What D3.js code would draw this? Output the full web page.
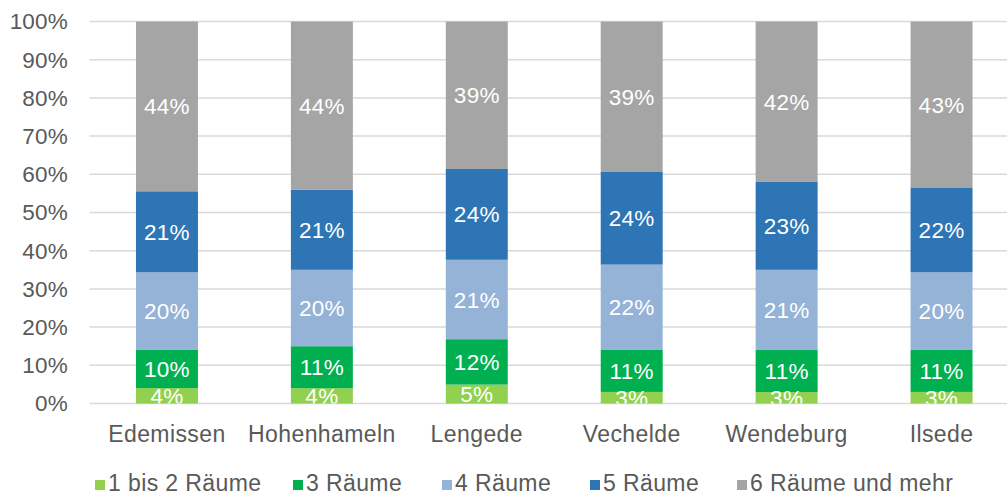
<!DOCTYPE html>
<html>
<head>
<meta charset="utf-8">
<script src="https://cdn.jsdelivr.net/npm/d3@7"></script>
<style>
  body { margin: 0; background: #fff; }
  svg { display: block; font-family: "Liberation Sans", Arial, sans-serif; }
</style>
</head>
<body>
<div id="chart"></div>
<script>
// Daten
const gemeinden = ['Edemissen', 'Hohenhameln', 'Lengede', 'Vechelde', 'Wendeburg', 'Ilsede'];
const serien = ['1 bis 2 Räume', '3 Räume', '4 Räume', '5 Räume', '6 Räume und mehr'];
const raum12 = [4, 4, 5, 3, 3, 3];
const raum3 = [10, 11, 12, 11, 11, 11];
const raum4 = [20, 20, 21, 22, 21, 20];
const raum5 = [21, 21, 24, 24, 23, 22];
const raum6 = [44, 44, 39, 39, 42, 43];
const yTicks = [0, 0.1, 0.2, 0.3, 0.4, 0.5, 0.6, 0.7, 0.8, 0.9, 1];
const farben = ['#92D050', '#00B050', '#95B3D7', '#2E75B6', '#A5A5A5'];

const width = 1007;
const height = 496;

const reihen = [raum12, raum3, raum4, raum5, raum6];
const tabelle = gemeinden.map((g, i) => {
  const row = { gemeinde: g };
  serien.forEach((s, j) => { row[s] = reihen[j][i]; });
  return row;
});

const stack = d3.stack()
  .keys(serien)
  .offset(d3.stackOffsetExpand);
const gestapelt = stack(tabelle);

const x = d3.scaleBand()
  .domain(gemeinden)
  .range([89.5, 1019])
  .paddingInner(0.6)
  .paddingOuter(0.3);

const y = d3.scaleLinear()
  .domain([0, 1])
  .range([403.5, 21.5]);

const color = d3.scaleOrdinal().domain(serien).range(farben);

const svg = d3.select('#chart')
  .append('svg')
  .attr('width', width)
  .attr('height', height);

svg.append('defs').append('clipPath')
  .attr('id', 'plot-clip')
  .append('rect')
  .attr('x', 0).attr('y', y(1))
  .attr('width', width).attr('height', y(0) - y(1));

// Gitterlinien
svg.append('g')
  .selectAll('line')
  .data(yTicks)
  .join('line')
  .attr('x1', 89.5)
  .attr('x2', width)
  .attr('y1', d => y(d))
  .attr('y2', d => y(d))
  .attr('stroke', '#D9D9D9')
  .attr('stroke-width', 1.5);

// Y-Achse Beschriftung
svg.append('g')
  .selectAll('text')
  .data(yTicks)
  .join('text')
  .attr('x', 68)
  .attr('y', d => y(d))
  .attr('dy', '0.35em')
  .attr('text-anchor', 'end')
  .attr('fill', '#595959')
  .style('font-size', '22.5px')
  .style('letter-spacing', '0.2px')
  .text(d3.format('.0%'));

// Balken
const gruppen = svg.append('g')
  .selectAll('g')
  .data(gestapelt)
  .join('g')
  .attr('fill', d => color(d.key));

gruppen.selectAll('rect')
  .data(d => d)
  .join('rect')
  .attr('x', d => x(d.data.gemeinde))
  .attr('width', x.bandwidth())
  .attr('y', d => y(d[1]))
  .attr('height', d => y(d[0]) - y(d[1]));

// Datenbeschriftungen
const labels = svg.append('g').attr('clip-path', 'url(#plot-clip)');
gestapelt.forEach(serie => {
  labels.selectAll(null)
    .data(serie)
    .join('text')
    .attr('x', d => x(d.data.gemeinde) + x.bandwidth() / 2)
    .attr('y', d => (y(d[0]) + y(d[1])) / 2)
    .attr('dy', '0.36em')
    .attr('text-anchor', 'middle')
    .attr('fill', '#fff')
    .style('font-size', '22.5px')
    .style('letter-spacing', '0.3px')
    .text(d => d.data[serie.key] + '%');
});

// X-Achse Beschriftung
svg.append('g')
  .selectAll('text')
  .data(gemeinden)
  .join('text')
  .attr('x', d => x(d) + x.bandwidth() / 2)
  .attr('y', 442)
  .attr('text-anchor', 'middle')
  .attr('fill', '#595959')
  .style('font-size', '23px')
  .style('letter-spacing', '0.4px')
  .text(d => d);

// Legende
const legendX = [95, 293, 442, 590, 737];
const legende = svg.append('g')
  .selectAll('g')
  .data(serien)
  .join('g')
  .attr('transform', (d, i) => `translate(${legendX[i]}, 480)`);

legende.append('rect')
  .attr('width', 10)
  .attr('height', 10)
  .attr('fill', d => color(d));

legende.append('text')
  .attr('x', 13)
  .attr('y', 11)
  .attr('fill', '#595959')
  .style('font-size', '23px')
  .style('letter-spacing', '0.4px')
  .text(d => d);
</script>
</body>
</html>
